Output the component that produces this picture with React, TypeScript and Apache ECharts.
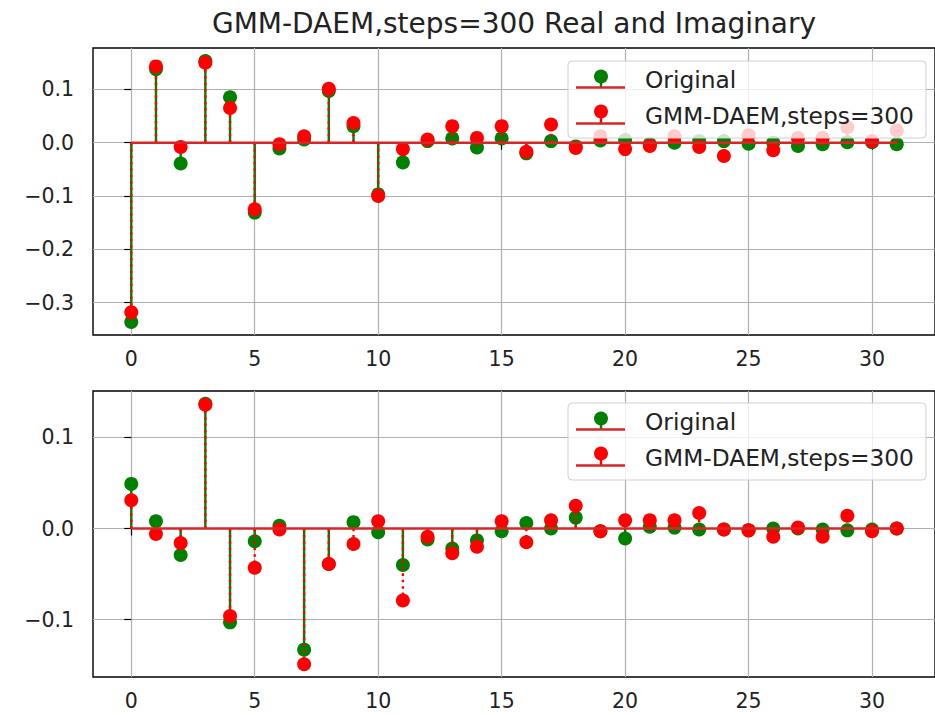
import React, { useEffect, useRef } from "react";
import * as echarts from "echarts";

const indices: number[] = Array.from({ length: 32 }, (_, i) => i);

const realOriginal = [-0.336, 0.138, -0.039, 0.153, 0.085, -0.131, -0.011, 0.006, 0.097, 0.031, -0.097, -0.037, 0.003, 0.008, -0.009, 0.008, -0.02, 0.003, -0.007, 0.004, 0.005, -0.003, 0.0, 0.003, 0.003, -0.002, 0.0, -0.006, -0.003, 0.001, 0.001, -0.003];
const realDaem = [-0.318, 0.143, -0.008, 0.15, 0.065, -0.125, -0.003, 0.012, 0.101, 0.037, -0.1, -0.012, 0.006, 0.031, 0.009, 0.031, -0.017, 0.034, -0.01, 0.012, -0.012, -0.006, 0.012, -0.008, -0.025, 0.014, -0.014, 0.009, 0.009, 0.029, 0.003, 0.023];
const imagOriginal = [0.049, 0.008, -0.029, 0.137, -0.103, -0.014, 0.003, -0.133, -0.039, 0.007, -0.004, -0.04, -0.012, -0.022, -0.013, -0.003, 0.006, 0.0, 0.012, -0.003, -0.011, 0.002, 0.001, -0.001, -0.001, -0.002, 0.0, 0.0, -0.001, -0.002, -0.001, 0.0];
const imagDaem = [0.031, -0.006, -0.016, 0.136, -0.096, -0.043, -0.001, -0.149, -0.039, -0.017, 0.008, -0.079, -0.009, -0.027, -0.02, 0.008, -0.015, 0.009, 0.025, -0.003, 0.009, 0.009, 0.009, 0.017, -0.001, -0.002, -0.009, 0.001, -0.009, 0.014, -0.003, 0.0];

const xTicks = [0, 5, 10, 15, 20, 25, 30];
const yTicksTop = [-0.3, -0.2, -0.1, 0, 0.1];
const yTicksBottom = [-0.1, 0, 0.1];
const legendNames = ["Original", "GMM-DAEM,steps=300"];
const titleText = "GMM-DAEM,steps=300 Real and Imaginary";

const FONT = "DejaVu Sans";
const GREEN = "#008000";
const RED = "#ff0000";
const BASE = "#d62728";

const fmtY = (v: number) => (v < 0 ? "\u2212" : "") + Math.abs(v).toFixed(1);

function stemSeries(values: number[], idx: number, color: string, dotted: boolean, z: number) {
  return {
    type: "custom",
    xAxisIndex: idx,
    yAxisIndex: idx,
    z,
    silent: true,
    encode: { x: 0, y: 1 },
    data: values.map((v, i) => [indices[i], v]),
    renderItem: (params: any, api: any) => {
      const x = api.value(0);
      const y = api.value(1);
      const p0 = api.coord([x, 0]);
      const p1 = api.coord([x, y]);
      return {
        type: "line",
        shape: { x1: p0[0], y1: p0[1], x2: p1[0], y2: p1[1] },
        style: {
          stroke: color,
          lineWidth: 2.4,
          lineDash: dotted ? [2.6, 3.8] : null,
          fill: null,
        },
      };
    },
  };
}

function scatterSeries(values: number[], idx: number, color: string, name: string, z: number) {
  return {
    type: "scatter",
    name,
    xAxisIndex: idx,
    yAxisIndex: idx,
    z,
    symbolSize: 14,
    itemStyle: { color, opacity: 1 },
    data: values.map((v, i) => [indices[i], v]),
  };
}

function baselineSeries(idx: number, z: number) {
  return {
    type: "line",
    xAxisIndex: idx,
    yAxisIndex: idx,
    z,
    symbol: "none",
    lineStyle: { color: BASE, width: 2.6 },
    data: [
      [indices[0], 0],
      [indices[indices.length - 1], 0],
    ],
  };
}

function legendGraphic(top: number) {
  const left = 568;
  const els: any[] = [
    {
      type: "rect",
      shape: { x: left, y: top, width: 358, height: 77, r: 4 },
      style: { fill: "rgba(255,255,255,0.8)", stroke: "#d0d0d0", lineWidth: 1 },
      z: 100,
    },
  ];
  const rows = [
    { color: GREEN, marker: 15.5, text: 18, line: 26.5, label: legendNames[0] },
    { color: RED, marker: 50.5, text: 54, line: 62.5, label: legendNames[1] },
  ];
  rows.forEach((r) => {
    els.push({
      type: "line",
      shape: { x1: 601, y1: top + r.marker, x2: 601, y2: top + r.line },
      style: { stroke: r.color, lineWidth: 2.4 },
      z: 101,
    });
    els.push({
      type: "line",
      shape: { x1: 576, y1: top + r.line, x2: 625, y2: top + r.line },
      style: { stroke: BASE, lineWidth: 2.6 },
      z: 102,
    });
    els.push({
      type: "circle",
      shape: { cx: 601, cy: top + r.marker, r: 7 },
      style: { fill: r.color },
      z: 103,
    });
    els.push({
      type: "text",
      x: 645,
      y: top + r.text,
      style: {
        text: r.label,
        fill: "#222",
        font: `23.3px '${FONT}'`,
        textAlign: "left",
        textVerticalAlign: "middle",
      },
      z: 104,
    });
  });
  return els;
}

export default function App() {
  const ref = useRef<HTMLDivElement>(null);
  useEffect(() => {
    if (!ref.current) return;
    const chart = echarts.init(ref.current, null, { renderer: "svg" });
    const axisLabelBase = { fontFamily: FONT, fontSize: 20.5, color: "#222" };
    const xAxisCommon = (gridIndex: number) => ({
      type: "value",
      gridIndex,
      min: -1.55,
      max: 32.55,
      axisLine: { show: false },
      axisTick: { show: true, length: 7, lineStyle: { color: "#000", width: 1.2 }, customValues: xTicks },
      axisLabel: { ...axisLabelBase, margin: 13, customValues: xTicks, formatter: (v: number) => String(v) },
      splitLine: { show: true, lineStyle: { color: "#b0b0b0", width: 1.2 } },
    });
    const yAxisCommon = (gridIndex: number, min: number, max: number, ticks: number[]) => ({
      type: "value",
      gridIndex,
      min,
      max,
      axisLine: { show: false },
      axisTick: { show: true, length: 7, lineStyle: { color: "#000", width: 1.2 }, customValues: ticks },
      axisLabel: { ...axisLabelBase, margin: 19, customValues: ticks, formatter: fmtY },
      splitLine: { show: true, lineStyle: { color: "#b0b0b0", width: 1.2 } },
    });
    chart.setOption({
      animation: false,
      grid: [
        { left: 93, top: 48, right: 0, height: 287, show: true, borderColor: "#000", borderWidth: 1.4, backgroundColor: "transparent" },
        { left: 93, top: 391, right: 0, height: 286, show: true, borderColor: "#000", borderWidth: 1.4, backgroundColor: "transparent" },
      ],
      xAxis: [xAxisCommon(0), xAxisCommon(1)],
      yAxis: [
        yAxisCommon(0, -0.3605, 0.1775, yTicksTop),
        yAxisCommon(1, -0.163, 0.151, yTicksBottom),
      ],
      series: [
        scatterSeries(realOriginal, 0, GREEN, legendNames[0], 2),
        stemSeries(realOriginal, 0, GREEN, false, 3),
        scatterSeries(realDaem, 0, RED, legendNames[1], 4),
        stemSeries(realDaem, 0, RED, true, 5),
        baselineSeries(0, 6),
        scatterSeries(imagOriginal, 1, GREEN, legendNames[0], 2),
        stemSeries(imagOriginal, 1, GREEN, false, 3),
        scatterSeries(imagDaem, 1, RED, legendNames[1], 4),
        stemSeries(imagDaem, 1, RED, true, 5),
        baselineSeries(1, 6),
      ],
      graphic: [
        {
          type: "text",
          x: 514,
          y: 23,
          style: {
            text: titleText,
            fill: "#222",
            font: `28px '${FONT}'`,
            textAlign: "center",
            textVerticalAlign: "middle",
          },
          z: 100,
        },
        ...legendGraphic(61),
        ...legendGraphic(403),
      ],
    });
    return () => chart.dispose();
  }, []);
  return (
    <div
      ref={ref}
      style={{ position: "absolute", left: 0, top: 0, width: 935, height: 715, background: "#fff" }}
    />
  );
}
